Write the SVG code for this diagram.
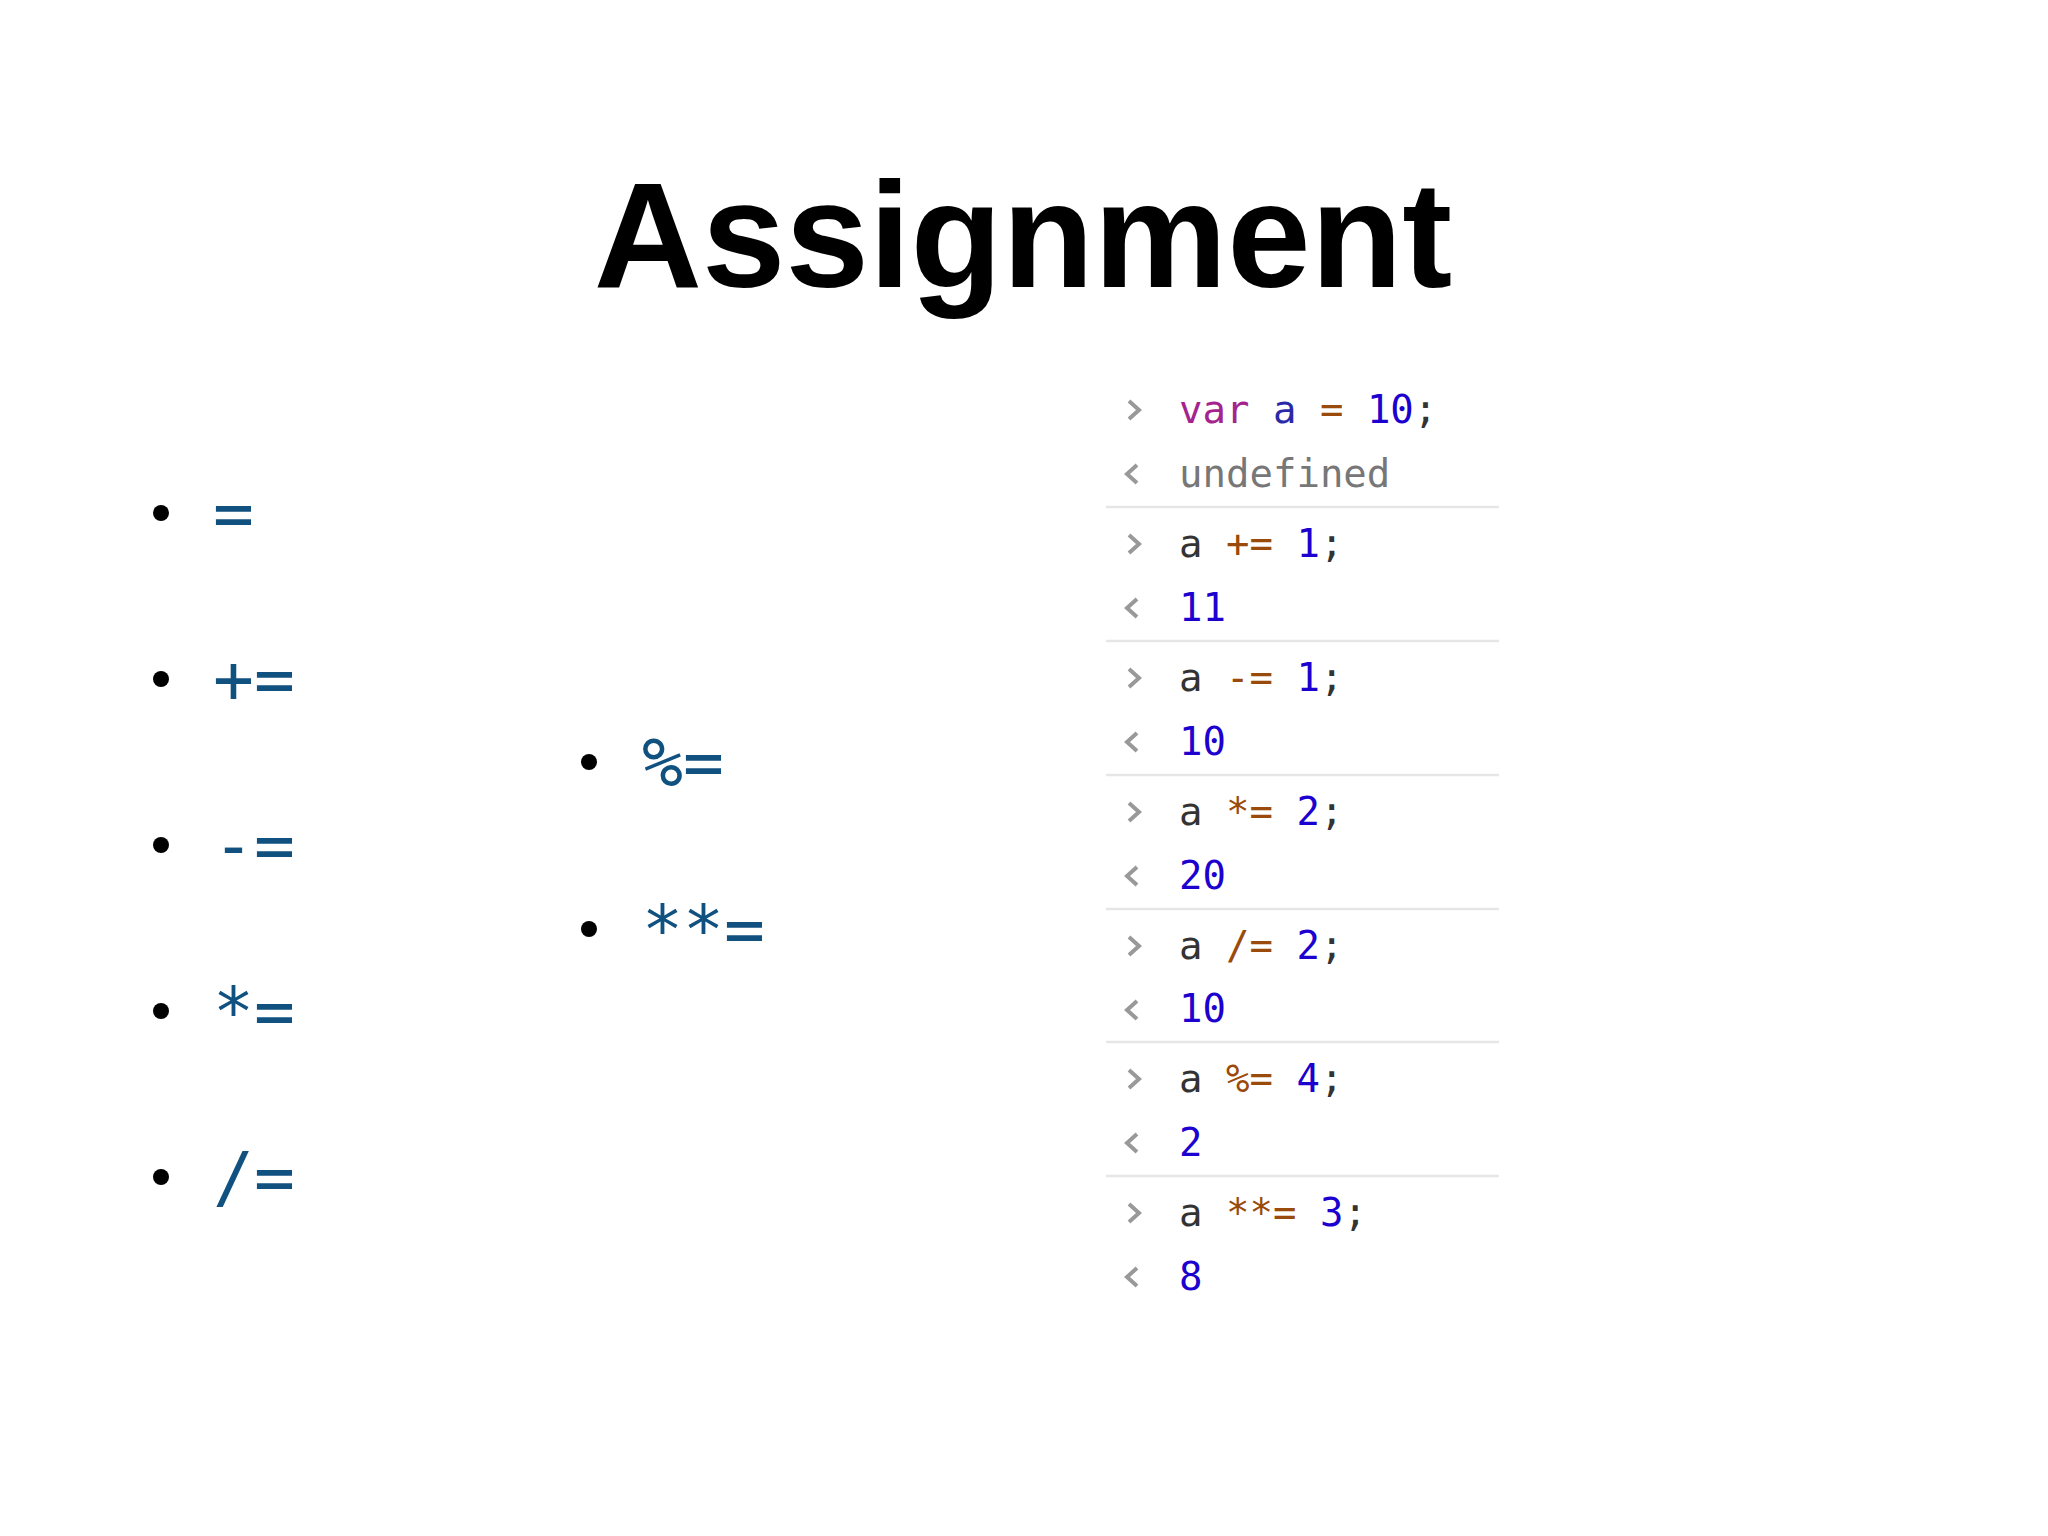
<svg xmlns="http://www.w3.org/2000/svg" width="2048" height="1536" viewBox="0 0 2048 1536">
<style>
.t{font-family:"Liberation Sans",Arial,sans-serif;font-size:150px;font-weight:bold;fill:#000}
.b{font-family:"DejaVu Sans Mono",monospace;font-size:68px;fill:#105180}
.c{font-family:"DejaVu Sans Mono",monospace;font-size:39px;fill:#333}
.k{fill:#a4238e}.n{fill:#1c00cf}.o{fill:#9a4a0a}.u{fill:#777}.v{fill:#2a2aa8}
.p{fill:none;stroke:#999;stroke-width:4}
.s{stroke:#e6e6e6;stroke-width:2.5}
</style>
<rect width="2048" height="1536" fill="#fff"/>
<text class="t" x="1023" y="287" text-anchor="middle">Assignment</text>
<g id="list1" fill="#000">
<circle cx="161" cy="513" r="8"/><circle cx="161" cy="679" r="8"/><circle cx="161" cy="845" r="8"/><circle cx="161" cy="1011" r="8"/><circle cx="161" cy="1177" r="8"/>
<text class="b" x="213" y="537">=</text>
<text class="b" x="213" y="703">+=</text>
<text class="b" x="213" y="869">-=</text>
<text class="b" x="213" y="1035">*=</text>
<text class="b" x="213" y="1201">/=</text>
</g>
<g id="list2" fill="#000">
<circle cx="589" cy="762" r="8"/><circle cx="589" cy="929" r="8"/>
<text class="b" x="642" y="786">%=</text>
<text class="b" x="642" y="953">**=</text>
</g>
<g id="console">
<g class="s"><line x1="1106" y1="507" x2="1499" y2="507"/><line x1="1106" y1="641" x2="1499" y2="641"/><line x1="1106" y1="775" x2="1499" y2="775"/><line x1="1106" y1="909" x2="1499" y2="909"/><line x1="1106" y1="1042" x2="1499" y2="1042"/><line x1="1106" y1="1176" x2="1499" y2="1176"/></g>
<g class="p">
<path d="M1129 401l10 9l-10 9"/><path d="M1129 535l10 9l-10 9"/><path d="M1129 669l10 9l-10 9"/><path d="M1129 803l10 9l-10 9"/><path d="M1129 937l10 9l-10 9"/><path d="M1129 1070l10 9l-10 9"/><path d="M1129 1204l10 9l-10 9"/>
</g>
<g class="p" stroke="#bbb">
<path d="M1137 465l-10 9l10 9"/><path d="M1137 599l-10 9l10 9"/><path d="M1137 733l-10 9l10 9"/><path d="M1137 867l-10 9l10 9"/><path d="M1137 1001l-10 9l10 9"/><path d="M1137 1134l-10 9l10 9"/><path d="M1137 1268l-10 9l10 9"/>
</g>
<text class="c" x="1179" y="423"><tspan class="k">var</tspan> <tspan class="v">a</tspan> <tspan class="o">=</tspan> <tspan class="n">10</tspan>;</text>
<text class="c u" x="1179" y="487">undefined</text>
<text class="c" x="1179" y="557">a <tspan class="o">+=</tspan> <tspan class="n">1</tspan>;</text>
<text class="c n" x="1179" y="621">11</text>
<text class="c" x="1179" y="691">a <tspan class="o">-=</tspan> <tspan class="n">1</tspan>;</text>
<text class="c n" x="1179" y="755">10</text>
<text class="c" x="1179" y="825">a <tspan class="o">*=</tspan> <tspan class="n">2</tspan>;</text>
<text class="c n" x="1179" y="889">20</text>
<text class="c" x="1179" y="959">a <tspan class="o">/=</tspan> <tspan class="n">2</tspan>;</text>
<text class="c n" x="1179" y="1022">10</text>
<text class="c" x="1179" y="1092">a <tspan class="o">%=</tspan> <tspan class="n">4</tspan>;</text>
<text class="c n" x="1179" y="1156">2</text>
<text class="c" x="1179" y="1226">a <tspan class="o">**=</tspan> <tspan class="n">3</tspan>;</text>
<text class="c n" x="1179" y="1290">8</text>
</g>
</svg>
